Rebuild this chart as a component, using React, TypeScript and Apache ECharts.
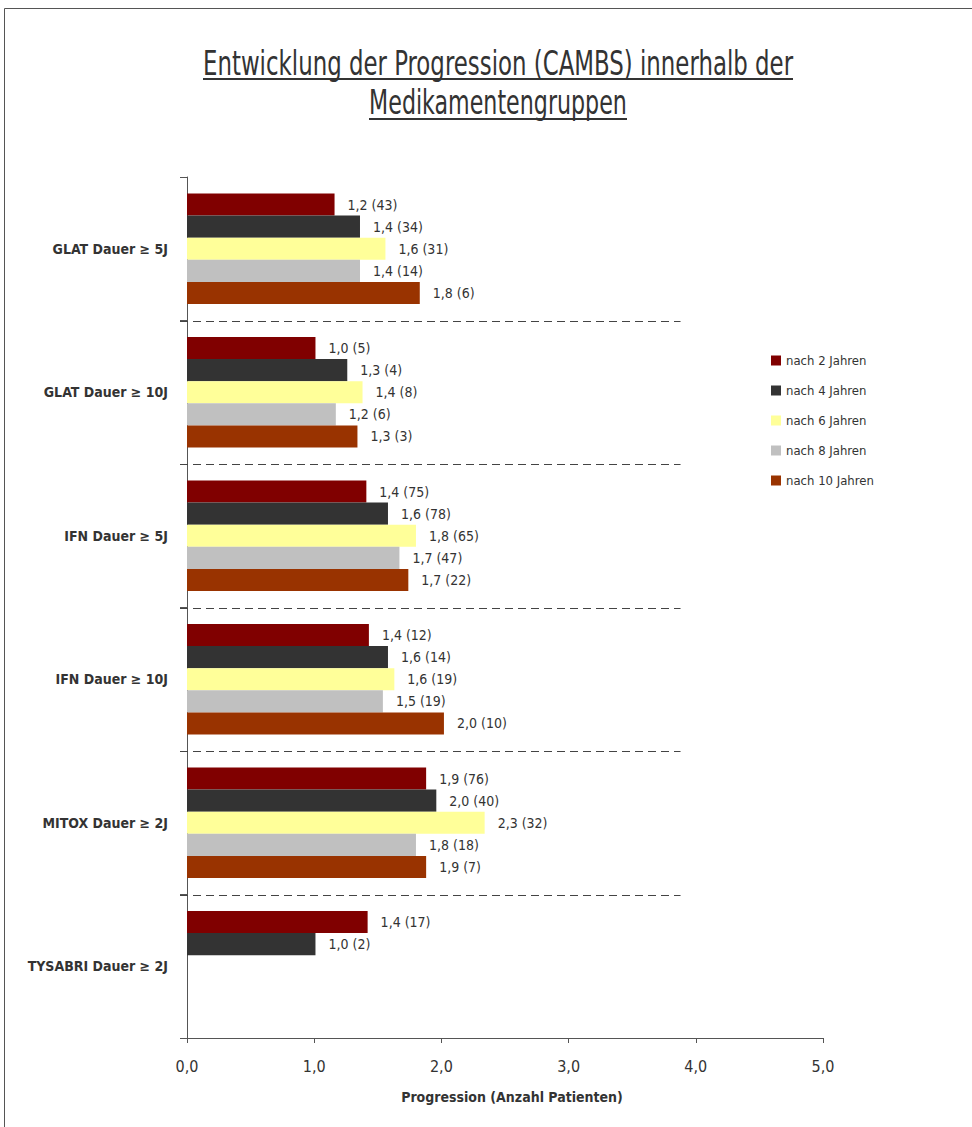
import React, { useEffect, useRef } from 'react';
import * as echarts from 'echarts';

const categories = [
  'GLAT Dauer ≥ 5J',
  'GLAT Dauer ≥ 10J',
  'IFN Dauer ≥ 5J',
  'IFN Dauer ≥ 10J',
  'MITOX Dauer ≥ 2J',
  'TYSABRI Dauer ≥ 2J',
];

const seriesNames = ['nach 2 Jahren', 'nach 4 Jahren', 'nach 6 Jahren', 'nach 8 Jahren', 'nach 10 Jahren'];
const seriesColors = ['#800000', '#333333', '#FFFF99', '#C0C0C0', '#993300'];

// mean progression (CAMBS) per group
const progression2J = [1.16, 1.01, 1.41, 1.43, 1.88, 1.42];
const progression4J = [1.36, 1.26, 1.58, 1.58, 1.96, 1.01];
const progression6J = [1.56, 1.38, 1.8, 1.63, 2.34, null];
const progression8J = [1.36, 1.17, 1.67, 1.54, 1.8, null];
const progression10J = [1.83, 1.34, 1.74, 2.02, 1.88, null];

// number of patients per group
const patients2J = [43, 5, 75, 12, 76, 17];
const patients4J = [34, 4, 78, 14, 40, 2];
const patients6J = [31, 8, 65, 19, 32, null];
const patients8J = [14, 6, 47, 19, 18, null];
const patients10J = [6, 3, 22, 10, 7, null];

const progressionSeries = [progression2J, progression4J, progression6J, progression8J, progression10J];
const patientSeries = [patients2J, patients4J, patients6J, patients8J, patients10J];

const titleLines = ['Entwicklung der Progression (CAMBS) innerhalb der', 'Medikamentengruppen'];
const xAxisName = 'Progression (Anzahl Patienten)';

const FONT = "'Liberation Sans Narrow', 'DejaVu Sans Condensed', 'Roboto', sans-serif";
const TEXT = '#333333';
const AXIS = '#555555';

const fmt = (v: number) => v.toFixed(1).replace('.', ',');

export default function App() {
  const ref = useRef<HTMLDivElement>(null);

  useEffect(() => {
    document.body.style.margin = '0';
    const chart = echarts.init(ref.current!, null, { renderer: 'svg' });

    const series = seriesNames.map((name, s) => ({
      name,
      type: 'bar',
      data: progressionSeries[s],
      itemStyle: { color: seriesColors[s] },
      barGap: '0%',
      barCategoryGap: '23%',
      label: {
        show: true,
        position: 'right',
        distance: 13,
        color: TEXT,
        fontFamily: FONT,
        fontSize: 14,
        formatter: (p: any) =>
          p.value == null ? '' : `${fmt(p.value)} (${patientSeries[s][p.dataIndex]})`,
      },
    }));

    chart.setOption({
      animation: false,
      backgroundColor: '#ffffff',
      textStyle: { fontFamily: FONT, color: TEXT },
      grid: { left: 187, top: 177, width: 636, height: 861, containLabel: false },
      legend: {
        orient: 'vertical',
        left: 771,
        top: 354,
        padding: 0,
        itemWidth: 10,
        itemHeight: 10,
        itemGap: 17,
        icon: 'rect',
        data: seriesNames,
        textStyle: { fontFamily: FONT, fontSize: 13, color: TEXT, lineHeight: 13 },
      },
      xAxis: {
        type: 'value',
        min: 0,
        max: 5,
        interval: 1,
        name: xAxisName,
        nameLocation: 'middle',
        nameGap: 52,
        nameTextStyle: {
          fontFamily: FONT,
          fontSize: 14,
          fontWeight: 'bold',
          color: TEXT,
          padding: [0, 0, 0, 14],
        },
        splitLine: { show: false },
        axisLine: { show: true, lineStyle: { color: AXIS, width: 1 } },
        axisTick: { show: true, length: 5, lineStyle: { color: AXIS } },
        axisLabel: {
          margin: 20,
          fontFamily: FONT,
          fontSize: 16,
          color: TEXT,
          formatter: (v: number) => fmt(v),
        },
      },
      yAxis: {
        type: 'category',
        inverse: true,
        data: categories,
        axisLine: { show: true, lineStyle: { color: AXIS, width: 1 } },
        axisTick: { show: true, length: 7, interval: 0, lineStyle: { color: AXIS } },
        axisLabel: {
          margin: 19,
          interval: 0,
          fontFamily: FONT,
          fontSize: 14,
          fontWeight: 'bold',
          color: TEXT,
        },
        splitLine: { show: false },
      },
      series,
    });

    // Title with measured horizontal condensation
    const ctx = document.createElement('canvas').getContext('2d')!;
    const titleSize = 34;
    ctx.font = `${titleSize}px ${FONT}`;
    const titleWidths = [590, 258];
    const titleCenters = [63, 102];
    const underlineY = [78, 118];
    const titleCenterX = 498;

    const graphics: any[] = [
      {
        type: 'rect',
        id: 'frame',
        shape: { x: 4.5, y: 8.5, width: 1200, height: 1400 },
        style: { fill: 'none', stroke: '#555555', lineWidth: 1 },
        silent: true,
      },
    ];
    titleLines.forEach((t, i) => {
      const w = ctx.measureText(t).width || titleWidths[i];
      graphics.push({
        type: 'text',
        id: 'title' + i,
        x: titleCenterX,
        y: titleCenters[i],
        scaleX: titleWidths[i] / w,
        style: {
          text: t,
          font: `${titleSize}px ${FONT}`,
          fill: TEXT,
          textAlign: 'center',
          align: 'center',
          textVerticalAlign: 'middle',
          verticalAlign: 'middle',
        },
      });
      graphics.push({
        type: 'rect',
        id: 'underline' + i,
        shape: { x: titleCenterX - titleWidths[i] / 2, y: underlineY[i], width: titleWidths[i], height: 2 },
        style: { fill: TEXT },
      });
    });

    // dashed separators at category boundaries
    const separatorEnd = 3.88;
    const xs = (chart.convertToPixel({ xAxisIndex: 0 }, 0) as number) - 7;
    const xe = chart.convertToPixel({ xAxisIndex: 0 }, separatorEnd) as number;
    for (let i = 1; i < categories.length; i++) {
      const y0 = chart.convertToPixel({ yAxisIndex: 0 }, i - 1) as number;
      const y1 = chart.convertToPixel({ yAxisIndex: 0 }, i) as number;
      const y = Math.round((y0 + y1) / 2) + 0.5;
      graphics.push({
        type: 'line',
        id: 'sep' + i,
        shape: { x1: xs, y1: y, x2: xe, y2: y },
        style: { stroke: '#444444', lineWidth: 1, lineDash: [8, 5] },
        z: 5,
      });
    }

    chart.setOption({ graphic: graphics });

    return () => chart.dispose();
  }, []);

  return <div ref={ref} style={{ width: 972, height: 1127 }} />;
}
